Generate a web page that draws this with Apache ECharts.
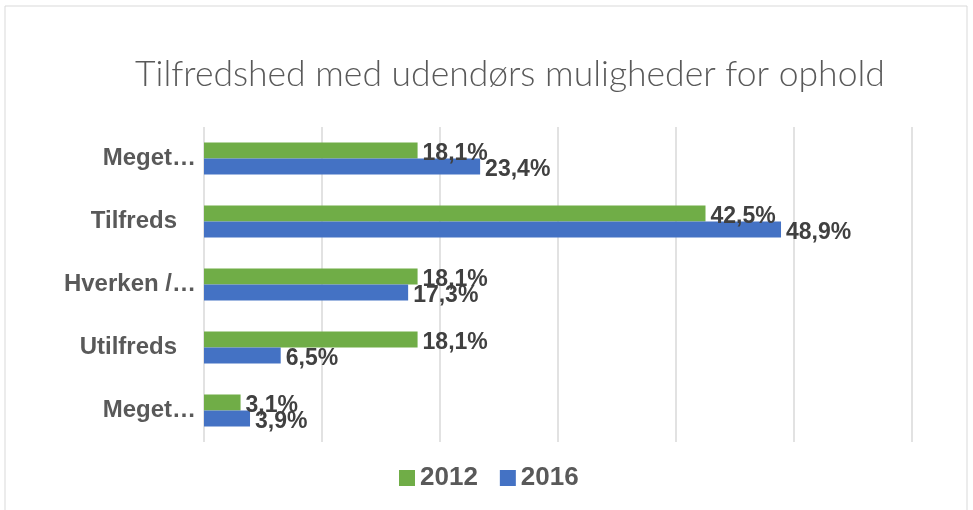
<!DOCTYPE html>
<html><head><meta charset="utf-8">
<script src="https://cdn.jsdelivr.net/npm/echarts@6/dist/echarts.min.js"></script>
<style>html,body{margin:0;padding:0;background:#fff}#c{width:973px;height:510px}</style>
</head><body><div id="c"></div>
<script>
const titleText = 'Tilfredshed med udendørs muligheder for ophold';
const categories = ['Meget…', 'Tilfreds', 'Hverken /…', 'Utilfreds', 'Meget…'];
const seriesNames = ['2012', '2016'];
const values2012 = [18.1, 42.5, 18.1, 18.1, 3.1];
const values2016 = [23.4, 48.9, 17.3, 6.5, 3.9];
const axisMin = 0, axisMax = 60, axisStep = 10;

const chart = echarts.init(document.getElementById('c'), null, {renderer: 'canvas'});
const fmt = v => v.toFixed(1).replace('.', ',') + '%';
const labelStyle = {show: true, position: 'right', distance: 5, offset: [0, 3], fontFamily: 'Liberation Sans', fontWeight: 'bold', fontSize: 23, color: '#404040', formatter: p => fmt(p.value)};
chart.setOption({
  animation: false,
  graphic: [{type: 'rect', shape: {x: 5, y: 6, width: 962, height: 520}, style: {fill: 'none', stroke: '#d9d9d9', lineWidth: 1}, silent: true}],
  title: {text: titleText, left: 130, top: 52, textStyle: {fontFamily: 'Lato', fontWeight: 300, fontSize: 35.5, color: '#595959'}},
  legend: {bottom: 14, left: 394, itemWidth: 16, itemHeight: 16, itemGap: 22, icon: 'rect',
    textStyle: {fontFamily: 'Liberation Sans', fontWeight: 'bold', fontSize: 26, color: '#595959'}, data: seriesNames},
  grid: {left: 204, right: 61, top: 127, bottom: 68, containLabel: false},
  xAxis: {type: 'value', min: axisMin, max: axisMax, interval: axisStep, axisLabel: {show: false}, axisLine: {show: false}, axisTick: {show: false},
    splitLine: {lineStyle: {color: '#d9d9d9', width: 1.5}}},
  yAxis: {type: 'category', inverse: true, data: categories, axisLine: {show: false}, axisTick: {show: false},
    axisLabel: {margin: 8, fontFamily: 'Liberation Sans', fontWeight: 'bold', fontSize: 24, color: '#595959',
      formatter: v => v.indexOf('…') >= 0 ? '{a|' + v + '}' : '{b|' + v + '}',
      rich: {a: {fontFamily: 'Liberation Sans', fontWeight: 'bold', fontSize: 24, color: '#595959'},
             b: {fontFamily: 'Liberation Sans', fontWeight: 'bold', fontSize: 24, color: '#595959', padding: [0, 19, 0, 0]}}}},
  series: [
    {name: seriesNames[0], type: 'bar', data: values2012, barWidth: 16, barGap: '0%', itemStyle: {color: '#70AD47'}, label: labelStyle},
    {name: seriesNames[1], type: 'bar', data: values2016, barWidth: 16, barGap: '0%', itemStyle: {color: '#4472C4'}, label: labelStyle}
  ]
});
</script></body></html>
